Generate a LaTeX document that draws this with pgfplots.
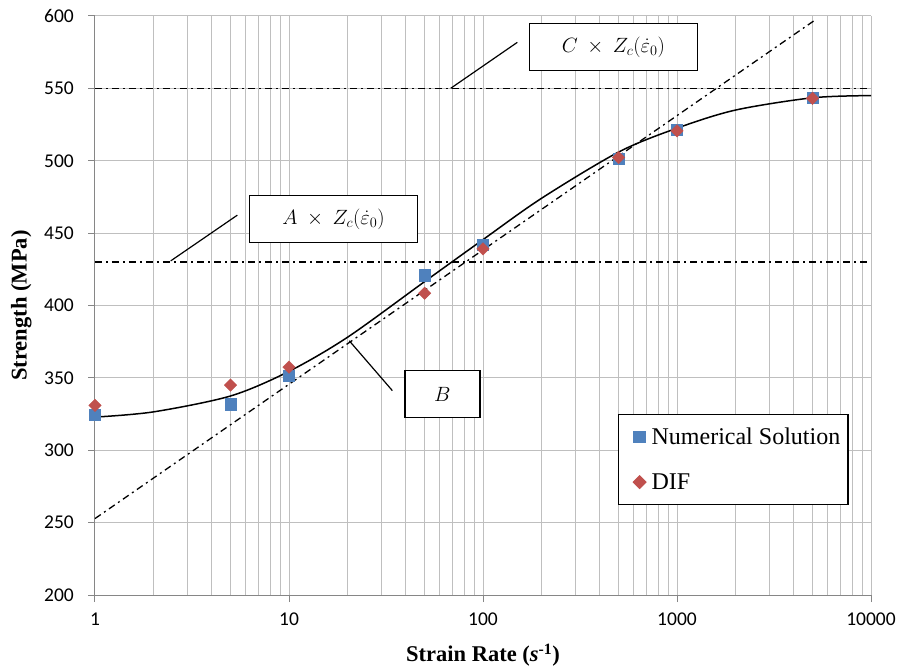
\documentclass[border=0pt]{standalone}
\usepackage{fontspec}
\setmainfont{Liberation Serif}
\newfontfamily\carlito{Carlito}
\usepackage{pgfplots}
\pgfplotsset{compat=1.18}
\definecolor{nsblue}{HTML}{4F81BD}
\definecolor{difred}{HTML}{C0504D}
\definecolor{gridgray}{HTML}{BFBFBF}
\definecolor{axgray}{HTML}{868686}
\begin{document}
\begin{tikzpicture}
\begin{axis}[
  scale only axis, width=776bp, height=579bp,
  xmode=log, xmin=1, xmax=10000, ymin=200, ymax=600,
  xtick={1,10,100,1000,10000}, xticklabels={1,10,100,1000,10000},
  ytick={200,250,300,350,400,450,500,550,600},
  yticklabels={200,250,300,350,400,450,500,550,600},
  grid=both,
  major grid style={gridgray, line width=1bp},
  minor grid style={gridgray, line width=1bp},
  axis x line*=bottom, axis y line*=left,
  axis line style={axgray, line width=1bp, -},
  tick align=outside, major tick length=7bp, minor tick length=0pt,
  tick style={axgray, line width=1bp},
  ticklabel style={font=\carlito\fontsize{19.5bp}{20bp}\selectfont, inner sep=0pt},
  xticklabel style={yshift=-11bp},
  yticklabel style={xshift=-14bp},
  xlabel={\bfseries Strain Rate (\textit{s}\textsuperscript{-1})},
  ylabel={\bfseries Strength (MPa)},
  xlabel style={at={(axis description cs:0.5,-0.1152)}, anchor=base, inner sep=0pt, font=\fontsize{22.5bp}{24bp}\selectfont},
  ylabel style={at={(axis description cs:-0.088,0.5)}, anchor=base, inner sep=0pt, font=\fontsize{22.5bp}{24bp}\selectfont},
  clip=false,
  legend cell align=left,
  legend style={at={(rel axis cs:0.6736,0.3126)}, anchor=north west, draw=black, line width=1.2bp, fill=white,
    inner sep=0pt, row sep=0pt, column sep=0pt, font=\fontsize{24bp}{24bp}\selectfont,
    nodes={inner sep=0pt, draw=none}},
  legend image code/.code={\path[draw=none, fill=none] (-21.3bp,-22.5bp) rectangle (12bp,22.5bp); \draw[#1] plot coordinates {(0bp,0bp)};},
]
\addplot[black, line width=1.3bp, dash pattern=on 7bp off 4bp on 2bp off 4bp, forget plot] coordinates {(1,550) (10000,550)};
\addplot[black, line width=1.3bp, dash pattern=on 7bp off 4bp on 2bp off 4bp, forget plot] coordinates {(1,430) (10000,430)};
\addplot[black, line width=1.3bp, dash pattern=on 7bp off 4bp on 2bp off 4bp, forget plot] coordinates {(1,252.8) (5250,598)};
\addplot[black, line width=1.5bp, smooth, forget plot] coordinates {
(1,322.9) (2,326.5) (5,337.5) (10,354.5) (20,378) (50,416.5) (100,445.5)
(200,474) (500,506) (1000,522.5) (2000,535) (5000,543.5) (10000,545)};
\addplot[only marks, mark=square*, mark size=5.65bp, color=nsblue] coordinates {
(1,324.5) (5,331.8) (10,351.4) (50,420.9) (100,441.9) (500,501.5) (1000,521.4) (5000,543.6)};
\addlegendentry{\makebox[196.3bp][l]{Numerical Solution}}
\addplot[only marks, mark=square*, mark size=4.4bp, mark options={rotate=45}, color=difred] coordinates {
(1,331) (5,345) (10,357.4) (50,408.5) (100,439.1) (500,502.3) (1000,520.7) (5000,543.1)};
\addlegendentry{\makebox[196.3bp][l]{DIF}}
\draw[line width=1.2bp] (axis cs:68.2,550.07) -- (axis cs:150.3,581.8);
\node[draw, fill=white, line width=1.2bp, minimum width=168bp, minimum height=47bp, inner sep=0pt, font=\fontsize{20bp}{21bp}\selectfont] at (axis cs:470,578.6) {$C\ \times\ Z_c(\dot{\varepsilon}_0)$};
\draw[line width=1.2bp] (axis cs:2.455,430.8) -- (axis cs:5.415,462.4);
\node[draw, fill=white, line width=1.2bp, minimum width=168.4bp, minimum height=46.7bp, inner sep=0pt, font=\fontsize{20bp}{21bp}\selectfont] at (axis cs:16.96,459.6) {$A\ \times\ Z_c(\dot{\varepsilon}_0)$};
\draw[line width=1.2bp] (axis cs:20.46,375.6) -- (axis cs:34.1,341.2);
\node[draw, fill=white, line width=1.2bp, minimum width=75bp, minimum height=47bp, inner sep=0pt, font=\fontsize{20bp}{21bp}\selectfont] at (axis cs:61.8,338.6) {$B$};
\coordinate (sw) at (rel axis cs:0,0);
\end{axis}
\path (sw) ++(-95bp,-77bp) rectangle ++(901bp,672bp);
\end{tikzpicture}
\end{document}
